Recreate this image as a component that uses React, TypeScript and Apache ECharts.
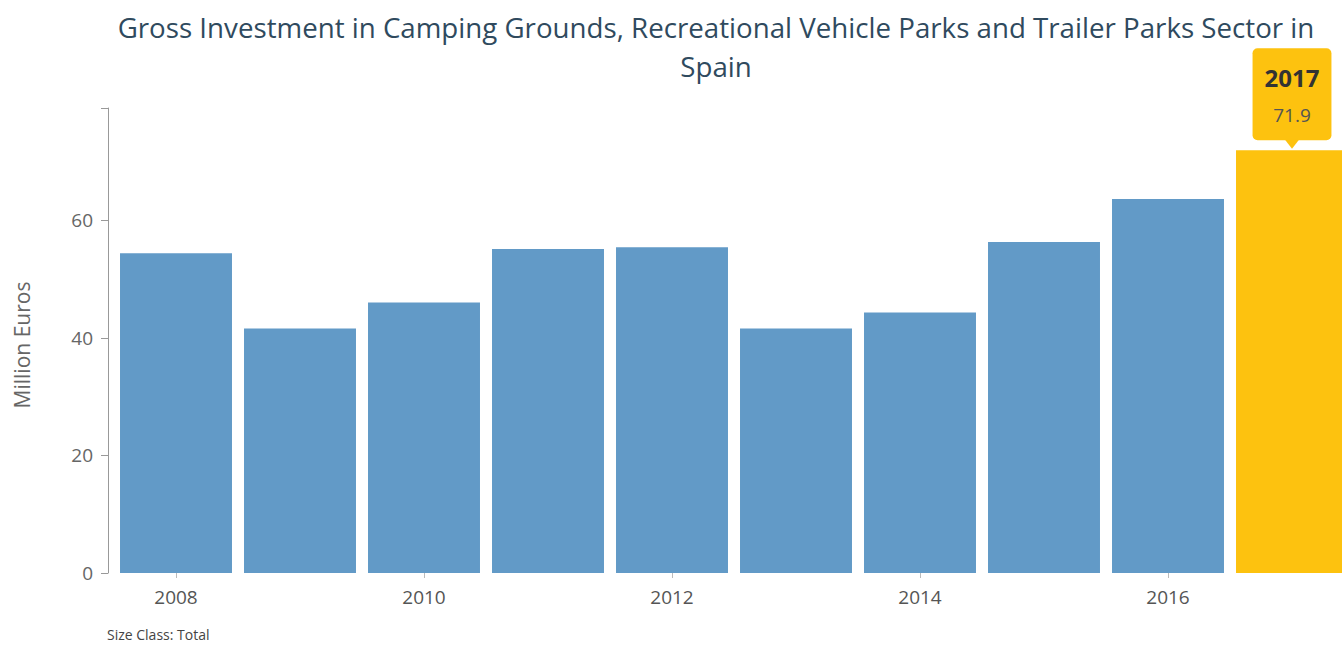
import React, { useEffect, useRef } from "react";
import * as echarts from "echarts";

const categories = ["2008", "2009", "2010", "2011", "2012", "2013", "2014", "2015", "2016", "2017"];
const values = [54.4, 41.6, 46.0, 55.1, 55.4, 41.6, 44.3, 56.3, 63.6, 71.9];
const highlightIndex = 9;
const titleLines = [
  "Gross Investment in Camping Grounds, Recreational Vehicle Parks and Trailer Parks Sector in",
  "Spain",
];
const yAxisName = "Million Euros";
const footnote = "Size Class: Total";

const BLUE = "#629ac7";
const YELLOW = "#fdc20f";
const FONT = "'Open Sans', 'Noto Sans', sans-serif";

export default function App() {
  const ref = useRef<HTMLDivElement>(null);
  useEffect(() => {
    if (!ref.current) return;
    const chart = echarts.init(ref.current, null, { renderer: "svg" });
    const yMax = Math.max(...values) * 1.1;
    chart.setOption({
      animation: false,
      textStyle: { fontFamily: FONT },
      graphic: [
        {
          type: "text",
          x: 716,
          y: 7,
          style: {
            text: titleLines.join("\n"),
            font: `27.7px ${FONT}`,
            fill: "#2f4a5e",
            align: "center",
            lineHeight: 39,
          },
        },
        {
          type: "text",
          x: 22,
          y: 345,
          rotation: Math.PI / 2,
          style: {
            text: yAxisName,
            font: `21px ${FONT}`,
            fill: "#666",
            align: "center",
            verticalAlign: "middle",
          },
        },
        {
          type: "text",
          x: 107,
          y: 627,
          style: { text: footnote, font: `14px ${FONT}`, fill: "#444" },
        },
      ],
      grid: {
        left: 114,
        width: 1240,
        top: 108,
        bottom: 72,
        containLabel: false,
        outerBoundsMode: "none",
      },
      xAxis: {
        type: "category",
        data: categories,
        axisLine: { show: false },
        axisTick: { show: true, alignWithLabel: true, interval: 1, length: 5, lineStyle: { color: "#bbb" } },
        axisLabel: { interval: 1, color: "#555", fontSize: 19, margin: 14, fontFamily: FONT },
      },
      yAxis: {
        type: "value",
        min: 0,
        max: yMax,
        interval: 20,
        offset: 6,
        axisLine: { show: true, lineStyle: { color: "#999" } },
        axisTick: { show: true, length: 7, lineStyle: { color: "#999" } },
        splitLine: { show: false },
        axisLabel: {
          color: "#666",
          fontSize: 19,
          margin: 15,
          fontFamily: FONT,
          formatter: (v: number) => (Math.abs(v % 20) < 1e-6 ? String(v) : ""),
        },
      },
      series: [
        {
          type: "bar",
          barCategoryGap: "9.7%",
          data: values.map((v, i) =>
            i === highlightIndex
              ? {
                  value: v,
                  itemStyle: { color: YELLOW },
                  label: {
                    show: true,
                    position: "top",
                    distance: 10,
                    formatter: (p: any) => `{y|${p.name}}\n{v|${p.value}}`,
                    backgroundColor: YELLOW,
                    borderRadius: 5,
                    padding: [8, 12, 8, 12],
                    rich: {
                      y: { fontSize: 24, fontWeight: "bold", color: "#333", lineHeight: 42, fontFamily: FONT, align: "center" },
                      v: { fontSize: 19, color: "#555", lineHeight: 34, fontFamily: FONT, align: "center" },
                    },
                  },
                }
              : { value: v, itemStyle: { color: BLUE } }
          ),
          markPoint: {
            silent: true,
            symbol: "triangle",
            symbolRotate: 180,
            symbolSize: [14, 9],
            symbolOffset: [0, -6],
            label: { show: false },
            itemStyle: { color: YELLOW },
            data: [{ coord: [highlightIndex, values[highlightIndex]] }],
          },
        },
      ],
    });
    return () => chart.dispose();
  }, []);
  return (
    <div
      ref={ref}
      style={{ position: "fixed", left: 0, top: 0, width: 1342, height: 645, background: "#fff" }}
    />
  );
}
